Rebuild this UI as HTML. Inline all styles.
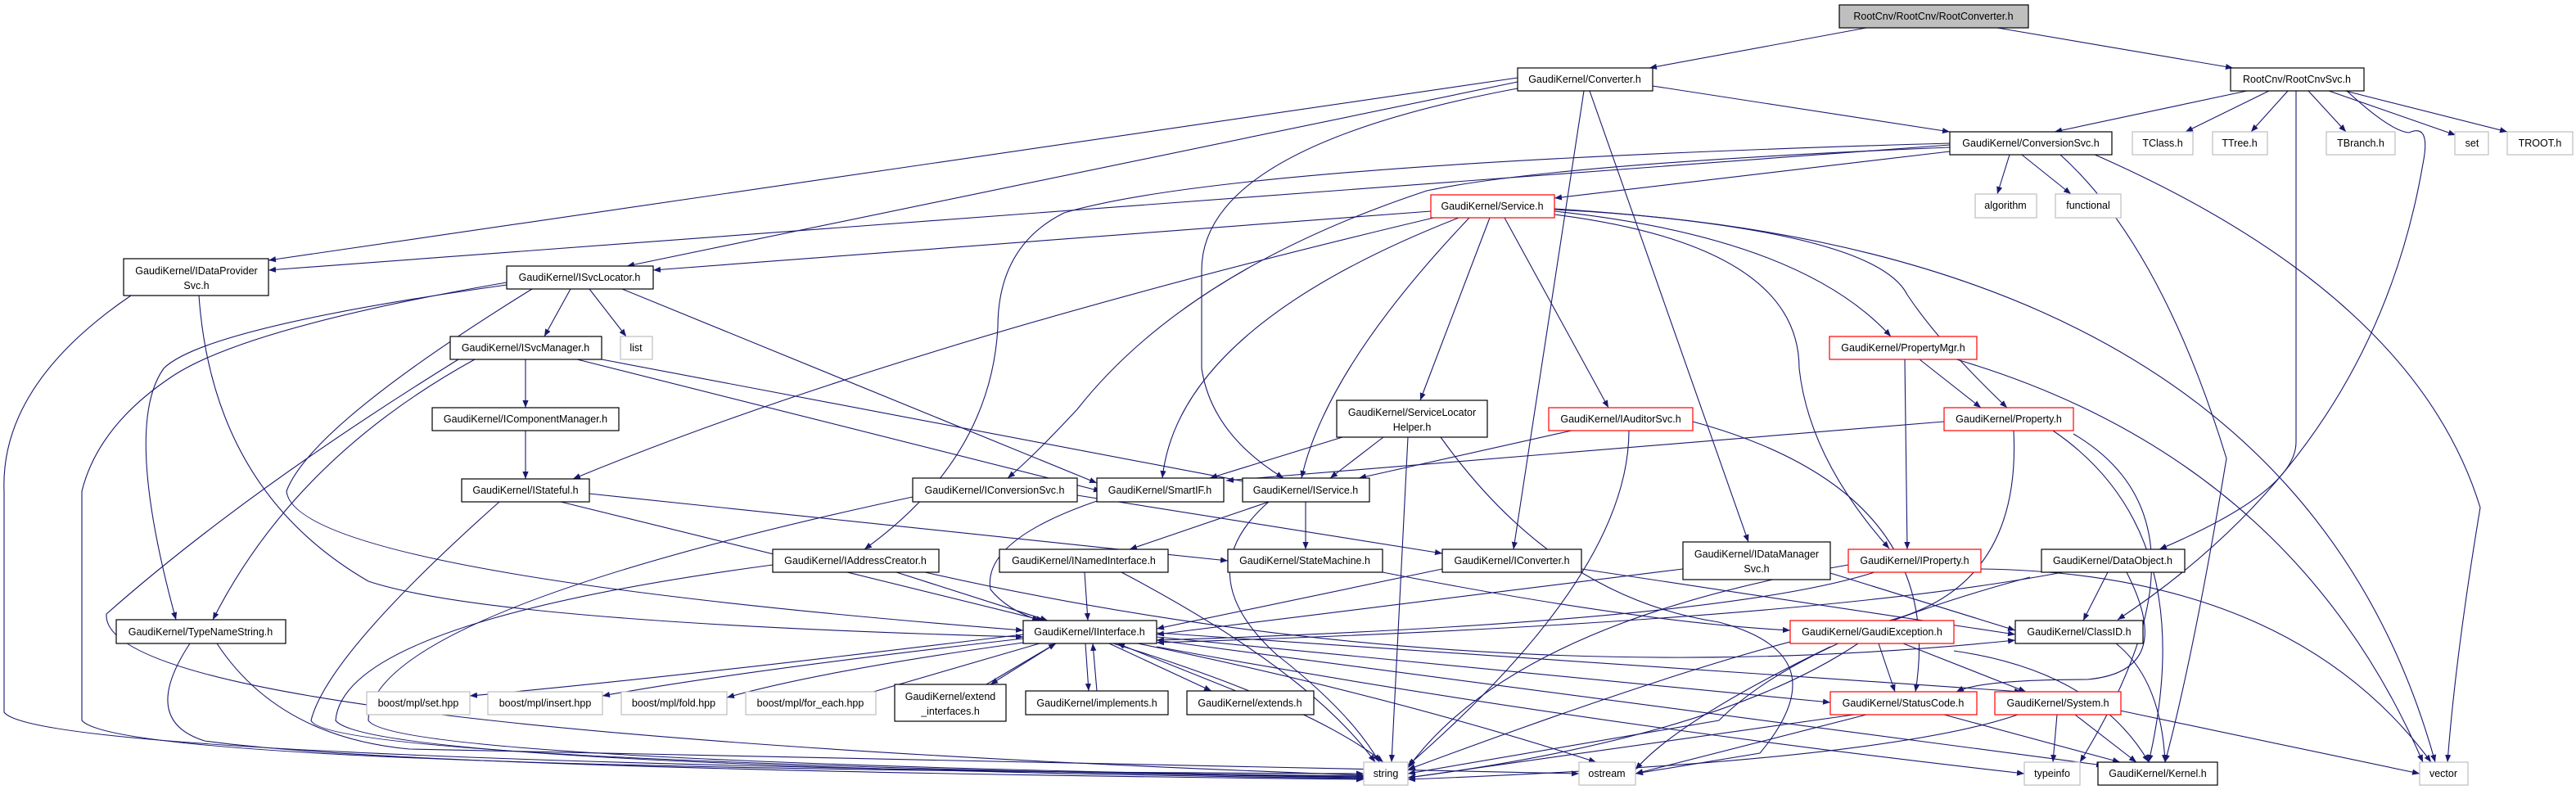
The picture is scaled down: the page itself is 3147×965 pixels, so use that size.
<!DOCTYPE html>
<html><head><meta charset="utf-8"><style>
html,body{margin:0;padding:0;background:#fff;}
svg{display:block;}
text{font-family:"Liberation Sans",Arial,sans-serif;font-size:12.5px;fill:#000;text-anchor:middle;}
.n{fill:#fff;stroke:#000;stroke-width:1.2;}
.g{fill:#fff;stroke:#bfbfbf;stroke-width:1.2;}
.r{fill:#fff;stroke:#ff0000;stroke-width:1.2;}
.e{fill:none;stroke:#191970;stroke-width:1.1;}
</style></head><body>
<svg width="3147" height="965" viewBox="0 0 3147 965" xmlns="http://www.w3.org/2000/svg">
<defs><marker id="a" viewBox="0 0 10 10" refX="10" refY="5" markerWidth="9" markerHeight="9" markerUnits="userSpaceOnUse" orient="auto"><path d="M0,1 L10,5 L0,9 z" fill="#191970"/></marker></defs>
<g class="e" marker-end="url(#a)">
<path d="M2280,34 L2015,83"/>
<path d="M2440,34 L2728,83"/>
<path d="M2745,111 L2510,161"/>
<path d="M2772,111 L2670,161"/>
<path d="M2795,111 L2750,161"/>
<path d="M2820,111 L2866,161"/>
<path d="M2845,111 L3000,165"/>
<path d="M2865,111 L3063,161"/>
<path d="M2805,111 L2805,540 Q2805,600 2638,671"/>
<path d="M2867,111 Q2920,160 2943,162 Q2970,150 2960,200 Q2900,550 2587,757"/>
<path d="M1854,95 L328,318"/>
<path d="M1854,100 L766,325"/>
<path d="M1854,108 Q1468,180 1468,330 L1468,450 Q1480,530 1568,584"/>
<path d="M2019,105 L2382,161"/>
<path d="M1935,111 L1849,671"/>
<path d="M1942,111 L2136,662"/>
<path d="M2382,177 L328,330"/>
<path d="M2382,185 L1899,242"/>
<path d="M2382,180 Q1900,200 1743,233 Q1450,330 1316,500 Q1260,560 1231,584"/>
<path d="M2382,175 Q1500,200 1300,260 Q1219,300 1219,400 Q1210,560 1056,671"/>
<path d="M2455,189 L2440,237"/>
<path d="M2470,189 L2530,237"/>
<path d="M2517,189 Q2640,300 2720,560 Q2680,800 2645,931"/>
<path d="M2557,188 Q2950,360 3030,620 Q3000,800 2990,931"/>
<path d="M1748,258 L798,330"/>
<path d="M1760,264 Q1100,420 700,585"/>
<path d="M1782,266 Q1440,400 1420,584"/>
<path d="M1795,266 Q1620,450 1590,584"/>
<path d="M1820,266 L1735,489"/>
<path d="M1838,266 L1965,498"/>
<path d="M1899,262 Q2198,300 2198,450 Q2210,560 2308,670"/>
<path d="M1899,258 Q2200,290 2310,411"/>
<path d="M1899,255 Q2290,280 2330,360 Q2370,420 2452,498"/>
<path d="M1899,256 Q2800,300 2975,931"/>
<path d="M697,353 L665,411"/>
<path d="M720,353 L765,411"/>
<path d="M650,353 Q380,520 350,600 Q360,700 1250,770"/>
<path d="M760,353 L1340,590"/>
<path d="M619,345 Q300,400 210,460 Q120,520 100,600 L100,880 Q150,940 1666,945"/>
<path d="M619,348 Q250,400 200,450 Q150,520 215,757"/>
<path d="M243,361 Q260,600 450,710 Q600,760 1250,778"/>
<path d="M160,361 Q0,470 5,600 L5,870 Q50,930 1666,948"/>
<path d="M642,439 L642,498"/>
<path d="M705,439 L1345,600"/>
<path d="M735,439 L1530,590"/>
<path d="M580,439 Q360,560 260,757"/>
<path d="M560,439 Q300,600 130,750 Q120,890 1666,947"/>
<path d="M642,526 L642,585"/>
<path d="M720,603 L1500,685"/>
<path d="M685,613 L1275,758"/>
<path d="M610,613 Q400,800 380,880 Q400,930 1666,950"/>
<path d="M232,786 Q170,880 250,905 Q500,940 1666,952"/>
<path d="M265,786 Q340,900 500,915 Q1200,930 1929,945"/>
<path d="M1115,607 Q450,750 450,880 Q480,930 1666,949"/>
<path d="M1316,605 L1762,676"/>
<path d="M1340,612 Q1200,660 1210,720 Q1230,745 1270,758"/>
<path d="M1550,613 L1380,671"/>
<path d="M1595,613 L1595,671"/>
<path d="M1550,613 Q1450,700 1560,800 Q1650,870 1685,931"/>
<path d="M1325,699 L1329,758"/>
<path d="M1370,699 Q1600,820 1680,931"/>
<path d="M1689,699 Q2000,760 2187,770"/>
<path d="M1762,695 L1413,768"/>
<path d="M1932,695 L2462,775"/>
<path d="M1095,699 L1280,758"/>
<path d="M944,690 Q420,760 410,880 Q450,935 1666,951"/>
<path d="M1130,699 Q1800,850 2462,782"/>
<path d="M2056,695 L1413,775"/>
<path d="M2236,700 L2462,770"/>
<path d="M1920,526 L1660,584"/>
<path d="M1990,526 Q1990,700 1720,935"/>
<path d="M2068,515 Q2380,600 2340,845"/>
<path d="M1640,534 L1478,584"/>
<path d="M1690,534 L1625,584"/>
<path d="M1720,534 L1700,931"/>
<path d="M1760,534 Q1900,730 2100,760 Q2250,800 2150,920 L1998,945"/>
<path d="M2375,515 L1498,587"/>
<path d="M2460,526 Q2470,720 2300,760 Q2150,780 1720,940"/>
<path d="M2508,526 Q2690,650 2625,931"/>
<path d="M2533,530 Q2720,640 2541,931"/>
<path d="M2345,439 L2420,498"/>
<path d="M2327,439 L2330,671"/>
<path d="M2390,439 Q2800,560 2960,931"/>
<path d="M2290,699 Q2100,760 1413,782"/>
<path d="M2258,690 Q1850,760 1720,938"/>
<path d="M2420,695 Q2800,700 2970,931"/>
<path d="M2575,699 L2545,758"/>
<path d="M2520,699 Q2200,760 1413,785"/>
<path d="M2598,699 Q2660,820 2550,830 Q2420,830 2390,845"/>
<path d="M2480,705 Q2200,780 2100,880 L1720,945"/>
<path d="M2295,786 L2315,845"/>
<path d="M2325,786 L2475,845"/>
<path d="M2387,795 Q2560,820 2625,931"/>
<path d="M2270,786 Q2100,900 1720,950"/>
<path d="M2236,790 Q2050,880 1998,940"/>
<path d="M2585,786 Q2640,830 2645,931"/>
<path d="M1250,775 Q800,830 574,850"/>
<path d="M1250,780 Q900,820 736,850"/>
<path d="M1250,785 Q1000,820 888,852"/>
<path d="M1270,786 L1050,850"/>
<path d="M1290,786 L1210,836"/>
<path d="M1326,786 L1330,844"/>
<path d="M1355,786 L1480,844"/>
<path d="M1360,786 Q1600,860 1690,931"/>
<path d="M1390,786 Q1700,850 1950,931"/>
<path d="M1413,778 L2236,858"/>
<path d="M1413,773 L2470,845"/>
<path d="M1413,782 L2570,935"/>
<path d="M1413,790 Q1900,880 2473,945"/>
<path d="M1205,836 L1290,786"/>
<path d="M1340,844 L1335,786"/>
<path d="M1510,844 L1365,786"/>
<path d="M2265,873 L1720,950"/>
<path d="M2280,873 L1998,945"/>
<path d="M2375,873 L2590,931"/>
<path d="M2513,873 L2508,931"/>
<path d="M2535,873 L2610,931"/>
<path d="M2590,868 L2956,945"/>
<path d="M2465,873 Q2300,930 1720,952"/>
</g>
<g>
<rect class="n" x="2247" y="6" width="231" height="28" style="fill:#bfbfbf"/><text x="2362" y="24">RootCnv/RootCnv/RootConverter.h</text>
<rect class="n" x="2725" y="83" width="163" height="28"/><text x="2806" y="101">RootCnv/RootCnvSvc.h</text>
<rect class="n" x="1854" y="83" width="165" height="28"/><text x="1936" y="101">GaudiKernel/Converter.h</text>
<rect class="n" x="2382" y="161" width="198" height="28"/><text x="2481" y="179">GaudiKernel/ConversionSvc.h</text>
<rect class="g" x="2605" y="161" width="74" height="28"/><text x="2642" y="179">TClass.h</text>
<rect class="g" x="2703" y="161" width="67" height="28"/><text x="2736" y="179">TTree.h</text>
<rect class="g" x="2842" y="161" width="84" height="28"/><text x="2884" y="179">TBranch.h</text>
<rect class="g" x="2999" y="161" width="41" height="28"/><text x="3020" y="179">set</text>
<rect class="g" x="3063" y="161" width="80" height="28"/><text x="3103" y="179">TROOT.h</text>
<rect class="g" x="2413" y="237" width="75" height="29"/><text x="2450" y="255">algorithm</text>
<rect class="g" x="2511" y="237" width="80" height="29"/><text x="2551" y="255">functional</text>
<rect class="r" x="1748" y="238" width="151" height="28"/><text x="1823" y="256">GaudiKernel/Service.h</text>
<rect class="n" x="151" y="316" width="177" height="45"/><text x="240" y="335">GaudiKernel/IDataProvider</text><text x="240" y="353">Svc.h</text>
<rect class="n" x="619" y="325" width="179" height="28"/><text x="708" y="343">GaudiKernel/ISvcLocator.h</text>
<rect class="r" x="2235" y="411" width="180" height="28"/><text x="2325" y="429">GaudiKernel/PropertyMgr.h</text>
<rect class="n" x="550" y="411" width="185" height="28"/><text x="642" y="429">GaudiKernel/ISvcManager.h</text>
<rect class="g" x="758" y="411" width="39" height="28"/><text x="777" y="429">list</text>
<rect class="n" x="528" y="498" width="228" height="28"/><text x="642" y="516">GaudiKernel/IComponentManager.h</text>
<rect class="n" x="1633" y="489" width="184" height="45"/><text x="1725" y="508">GaudiKernel/ServiceLocator</text><text x="1725" y="526">Helper.h</text>
<rect class="r" x="1892" y="498" width="176" height="28"/><text x="1980" y="516">GaudiKernel/IAuditorSvc.h</text>
<rect class="r" x="2375" y="498" width="158" height="28"/><text x="2454" y="516">GaudiKernel/Property.h</text>
<rect class="n" x="564" y="585" width="156" height="28"/><text x="642" y="603">GaudiKernel/IStateful.h</text>
<rect class="n" x="1115" y="584" width="201" height="29"/><text x="1215" y="603">GaudiKernel/IConversionSvc.h</text>
<rect class="n" x="1340" y="584" width="155" height="29"/><text x="1417" y="603">GaudiKernel/SmartIF.h</text>
<rect class="n" x="1518" y="584" width="155" height="29"/><text x="1595" y="603">GaudiKernel/IService.h</text>
<rect class="n" x="944" y="671" width="203" height="28"/><text x="1045" y="689">GaudiKernel/IAddressCreator.h</text>
<rect class="n" x="1221" y="671" width="206" height="28"/><text x="1324" y="689">GaudiKernel/INamedInterface.h</text>
<rect class="n" x="1500" y="671" width="189" height="28"/><text x="1594" y="689">GaudiKernel/StateMachine.h</text>
<rect class="n" x="1762" y="671" width="170" height="28"/><text x="1847" y="689">GaudiKernel/IConverter.h</text>
<rect class="n" x="2056" y="662" width="180" height="46"/><text x="2146" y="681">GaudiKernel/IDataManager</text><text x="2146" y="699">Svc.h</text>
<rect class="r" x="2258" y="671" width="162" height="28"/><text x="2339" y="689">GaudiKernel/IProperty.h</text>
<rect class="n" x="2494" y="671" width="175" height="28"/><text x="2581" y="689">GaudiKernel/DataObject.h</text>
<rect class="n" x="142" y="757" width="207" height="29"/><text x="245" y="776">GaudiKernel/TypeNameString.h</text>
<rect class="n" x="1250" y="758" width="163" height="28"/><text x="1331" y="776">GaudiKernel/IInterface.h</text>
<rect class="r" x="2187" y="758" width="200" height="28"/><text x="2287" y="776">GaudiKernel/GaudiException.h</text>
<rect class="n" x="2462" y="758" width="156" height="28"/><text x="2540" y="776">GaudiKernel/ClassID.h</text>
<rect class="n" x="1093" y="836" width="136" height="45"/><text x="1161" y="855">GaudiKernel/extend</text><text x="1161" y="873">_interfaces.h</text>
<rect class="g" x="448" y="845" width="126" height="28"/><text x="511" y="863">boost/mpl/set.hpp</text>
<rect class="g" x="596" y="845" width="140" height="28"/><text x="666" y="863">boost/mpl/insert.hpp</text>
<rect class="g" x="759" y="845" width="129" height="28"/><text x="823" y="863">boost/mpl/fold.hpp</text>
<rect class="g" x="911" y="845" width="159" height="28"/><text x="990" y="863">boost/mpl/for_each.hpp</text>
<rect class="n" x="1253" y="844" width="174" height="29"/><text x="1340" y="863">GaudiKernel/implements.h</text>
<rect class="n" x="1450" y="844" width="155" height="29"/><text x="1527" y="863">GaudiKernel/extends.h</text>
<rect class="r" x="2236" y="845" width="179" height="28"/><text x="2325" y="863">GaudiKernel/StatusCode.h</text>
<rect class="r" x="2437" y="845" width="154" height="28"/><text x="2514" y="863">GaudiKernel/System.h</text>
<rect class="g" x="1666" y="931" width="54" height="28"/><text x="1693" y="949">string</text>
<rect class="g" x="1929" y="931" width="69" height="28"/><text x="1963" y="949">ostream</text>
<rect class="g" x="2473" y="931" width="68" height="28"/><text x="2507" y="949">typeinfo</text>
<rect class="n" x="2563" y="931" width="146" height="28"/><text x="2636" y="949">GaudiKernel/Kernel.h</text>
<rect class="g" x="2956" y="931" width="59" height="28"/><text x="2985" y="949">vector</text>
</g>
</svg>
</body></html>
